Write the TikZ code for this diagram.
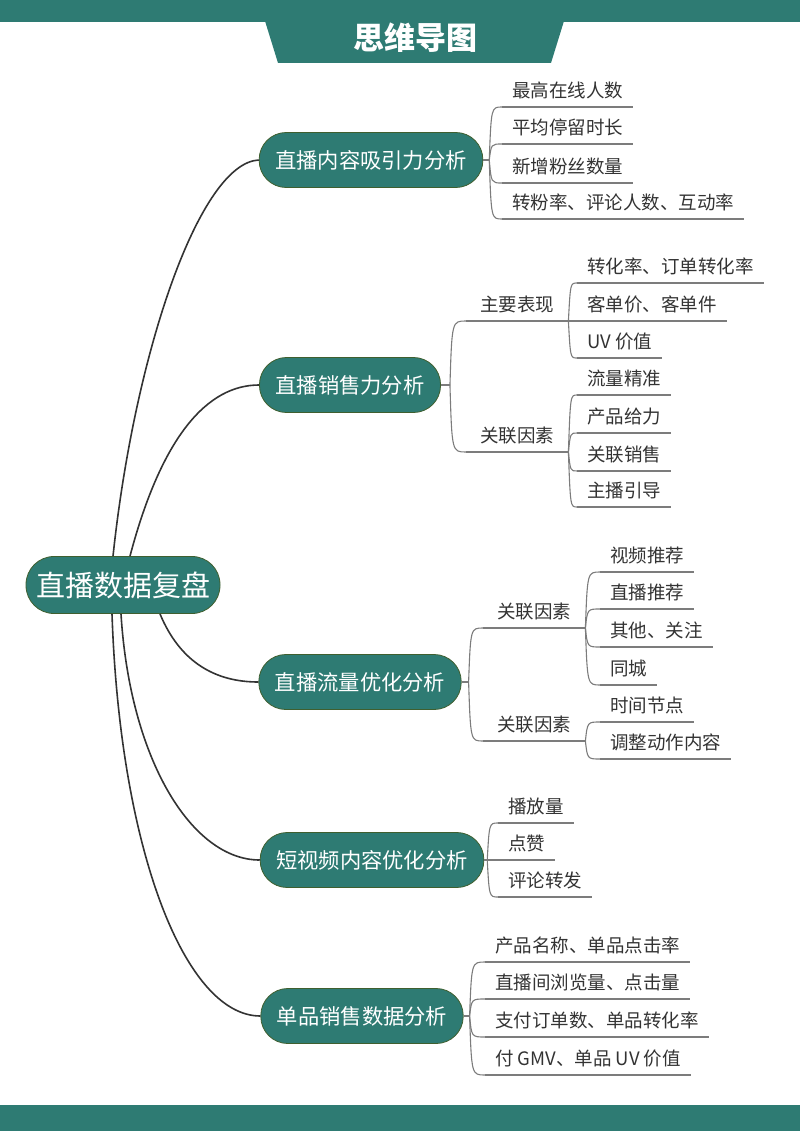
\documentclass[tikz,border=0pt]{standalone}
\usepackage{fontspec}
\setmainfont{Noto Sans CJK SC}
\usepackage{tikz}
\usetikzlibrary{positioning}
\definecolor{mapgreen}{HTML}{2E7B73}
\definecolor{rimgreen}{HTML}{3F5F2F}
\definecolor{ink}{HTML}{333333}
\definecolor{wire}{HTML}{333333}
\definecolor{twiggray}{HTML}{7C7C7C}
\tikzstyle{hub} = [draw=rimgreen, line width=0.8pt, fill=mapgreen, rounded corners=28pt, minimum height=57pt, inner xsep=10pt, text=white, font=\fontsize{29}{34}\selectfont]
\tikzstyle{topic} = [draw=rimgreen, line width=0.8pt, fill=mapgreen, rounded corners=27pt, minimum height=55pt, inner xsep=16pt, text=white, font=\fontsize{21.3}{25}\selectfont]
\tikzstyle{leaf} = [anchor=south west, inner xsep=10pt, inner ysep=9pt, text height=13pt, text depth=0pt, text=ink, font=\fontsize{18.5}{22}\selectfont]
\tikzstyle{sub} = [leaf, inner xsep=14pt]
\tikzstyle{trunk} = [draw=wire, line width=1.6pt]
\tikzstyle{twig} = [draw=twiggray, line width=1.1pt, to path={.. controls ([xshift=2pt]\tikztostart |- \tikztotarget) .. (\tikztotarget)}]

\begin{document}
\begin{tikzpicture}[x=1pt,y=-1pt]
\useasboundingbox (0,0) rectangle (800,1131);
\fill[mapgreen] (0,0) rectangle (800,22);
\fill[mapgreen] (265,21) -- (564,21) -- (551,63) -- (278,63) -- cycle;
\node[text=white, font=\fontsize{31}{36}\selectfont\bfseries] (title) at (415,38) {思维导图};
\fill[mapgreen] (0,1105) rectangle (800,1131);

\node[hub] (root) at (123,585) {直播数据复盘};
\node[topic] (b1) at (371,160) {直播内容吸引力分析};
\node[topic] (b2) at (350,385) {直播销售力分析};
\node[topic] (b3) at (360,682) {直播流量优化分析};
\node[topic] (b4) at (372,860) {短视频内容优化分析};
\node[topic] (b5) at (362,1016) {单品销售数据分析};

\draw[trunk] ([xshift=-10pt]root.north) .. controls (135,350) and (200,163) .. (b1.west);
\draw[trunk] ([xshift=7pt]root.north) .. controls (162,435) and (208,385) .. (b2.west);
\draw[trunk] ([xshift=37pt]root.south) .. controls (180,662) and (215,682) .. (b3.west);
\draw[trunk] ([xshift=-2pt]root.south) .. controls (130,760) and (192,860) .. (b4.west);
\draw[trunk] ([xshift=-11pt]root.south) .. controls (120,850) and (185,1016) .. (b5.west);

\coordinate[right=6pt of b1] (f1);
\coordinate[right=9pt of b2] (f2);
\coordinate[right=7pt of b3] (f3);
\coordinate[right=3pt of b4] (f4);
\coordinate[right=6pt of b5] (f5);
\foreach \b/\f in {b1/f1,b2/f2,b3/f3,b4/f4,b5/f5}
  \draw[twig] (\b.east) -- (\f);

\node[leaf] (a1) at (502,107) {最高在线人数};
\node[leaf] (a2) at (502,144) {平均停留时长};
\node[leaf] (a3) at (502,183) {新增粉丝数量};
\node[leaf] (a4) at (502,219) {转粉率、评论人数、互动率};
\foreach \n in {a1,a2,a3,a4}
  \draw[twig] (f1) to (\n.south west);

\node[sub] (m1) at (466,321) {主要表现};
\node[sub] (m2) at (466,452) {关联因素};
\foreach \n in {m1,m2}
  \draw[twig] (f2) to (\n.south west);
\node[leaf] (c1) at (577,283) {转化率、订单转化率};
\node[leaf] (c2) at (577,321) {客单价、客单件};
\node[leaf] (c3) at (577,358) {UV 价值};
\node[leaf] (c4) at (577,395) {流量精准};
\node[leaf] (c5) at (577,433) {产品给力};
\node[leaf] (c6) at (577,471) {关联销售};
\node[leaf] (c7) at (577,507) {主播引导};
\foreach \n in {c1,c2,c3}
  \draw[twig] (m1.south east) to (\n.south west);
\foreach \n in {c4,c5,c6,c7}
  \draw[twig] (m2.south east) to (\n.south west);

\node[sub] (m3) at (483,628) {关联因素};
\node[sub] (m4) at (483,741) {关联因素};
\foreach \n in {m3,m4}
  \draw[twig] (f3) to (\n.south west);
\node[leaf] (d1) at (600,572) {视频推荐};
\node[leaf] (d2) at (600,609) {直播推荐};
\node[leaf] (d3) at (600,647) {其他、关注};
\node[leaf] (d4) at (600,685) {同城};
\node[leaf] (d5) at (600,722) {时间节点};
\node[leaf] (d6) at (600,759) {调整动作内容};
\foreach \n in {d1,d2,d3,d4}
  \draw[twig] (m3.south east) to (\n.south west);
\foreach \n in {d5,d6}
  \draw[twig] (m4.south east) to (\n.south west);

\node[leaf] (e1) at (498,823) {播放量};
\node[leaf] (e2) at (498,860) {点赞};
\node[leaf] (e3) at (498,897) {评论转发};
\foreach \n in {e1,e2,e3}
  \draw[twig] (f4) to (\n.south west);

\node[leaf] (g1) at (485,962) {产品名称、单品点击率};
\node[leaf] (g2) at (485,999) {直播间浏览量、点击量};
\node[leaf] (g3) at (485,1037) {支付订单数、单品转化率};
\node[leaf] (g4) at (485,1075) {付 GMV、单品 UV 价值};
\foreach \n in {g1,g2,g3,g4}
  \draw[twig] (f5) to (\n.south west);

\foreach \n in {a1,a2,a3,a4,m1,m2,c1,c2,c3,c4,c5,c6,c7,m3,m4,d1,d2,d3,d4,d5,d6,e1,e2,e3,g1,g2,g3,g4}
  \draw[twig] (\n.south west) -- (\n.south east);
\end{tikzpicture}
\end{document}
